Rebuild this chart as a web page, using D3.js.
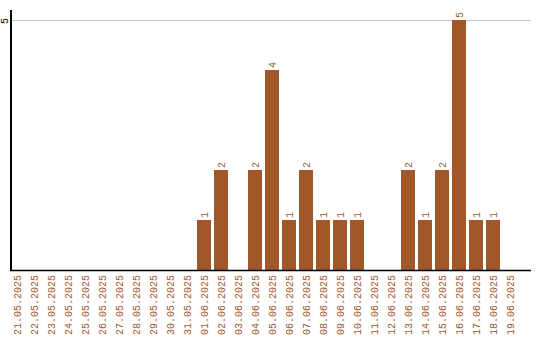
<!DOCTYPE html>
<html>
<head>
<meta charset="utf-8">
<script src="https://cdn.jsdelivr.net/npm/d3@7"></script>
<style>
  body { margin: 0; background: #fff; }
  text { font-family: "Liberation Mono", monospace; font-size: 10px; }
</style>
</head>
<body>
<div id="chart"></div>
<script>
const dates = [
  "21.05.2025", "22.05.2025", "23.05.2025", "24.05.2025", "25.05.2025",
  "26.05.2025", "27.05.2025", "28.05.2025", "29.05.2025", "30.05.2025",
  "31.05.2025", "01.06.2025", "02.06.2025", "03.06.2025", "04.06.2025",
  "05.06.2025", "06.06.2025", "07.06.2025", "08.06.2025", "09.06.2025",
  "10.06.2025", "11.06.2025", "12.06.2025", "13.06.2025", "14.06.2025",
  "15.06.2025", "16.06.2025", "17.06.2025", "18.06.2025", "19.06.2025"
];
const counts = [
  0, 0, 0, 0, 0, 0, 0, 0, 0, 0,
  0, 1, 2, 0, 2, 4, 1, 2, 1, 1,
  1, 0, 0, 2, 1, 2, 5, 1, 1, 0
];
const yTicks = [5];

const width = 540;
const height = 340;
const barColor = "#a0572a";

const x = d3.scaleBand()
    .domain(dates)
    .range([8.5, 518.5])
    .paddingInner(3 / 17)
    .paddingOuter(1.5 / 17);

const y = d3.scaleLinear()
    .domain([0, 5])
    .range([270, 20]);

const svg = d3.select("#chart").append("svg")
    .attr("width", width)
    .attr("height", height);

// grid line
svg.selectAll("line.grid")
  .data(yTicks)
  .join("line")
    .attr("class", "grid")
    .attr("x1", 11).attr("x2", 531)
    .attr("y1", d => y(d) + 0.5).attr("y2", d => y(d) + 0.5)
    .attr("stroke", "#c8c8c8");

// y tick labels, rotated
svg.selectAll("text.ytick")
  .data(yTicks)
  .join("text")
    .attr("class", "ytick")
    .attr("transform", d => `translate(8,${y(d) + 1}) rotate(-90)`)
    .attr("text-anchor", "middle")
    .attr("fill", "#000")
    .text(d => d);

const data = dates.map((d, i) => ({ date: d, value: counts[i] }));

svg.selectAll("rect.bar")
  .data(data.filter(d => d.value > 0))
  .join("rect")
    .attr("class", "bar")
    .attr("x", d => x(d.date))
    .attr("width", x.bandwidth())
    .attr("y", d => y(d.value))
    .attr("height", d => y(0) - y(d.value))
    .attr("fill", barColor);

// value labels
svg.selectAll("text.val")
  .data(data.filter(d => d.value > 0))
  .join("text")
    .attr("class", "val")
    .attr("transform", d => `translate(${x(d.date) + x.bandwidth() / 2 + 3.5},${y(d.value) - 2}) rotate(-90)`)
    .attr("fill", barColor)
    .text(d => d.value);

// x labels
svg.selectAll("text.xlab")
  .data(dates)
  .join("text")
    .attr("class", "xlab")
    .attr("transform", d => `translate(${x(d) + x.bandwidth() / 2 + 3.5},275) rotate(-90)`)
    .attr("text-anchor", "end")
    .attr("fill", barColor)
    .text(d => d);

// axes lines
svg.append("line")
    .attr("x1", 11).attr("x2", 11)
    .attr("y1", 10).attr("y2", 270)
    .attr("stroke", "#000").attr("stroke-width", 2);
svg.append("line")
    .attr("x1", 10).attr("x2", 531)
    .attr("y1", 270.5).attr("y2", 270.5)
    .attr("stroke", "#000").attr("stroke-width", 1.5);
</script>
</body>
</html>
